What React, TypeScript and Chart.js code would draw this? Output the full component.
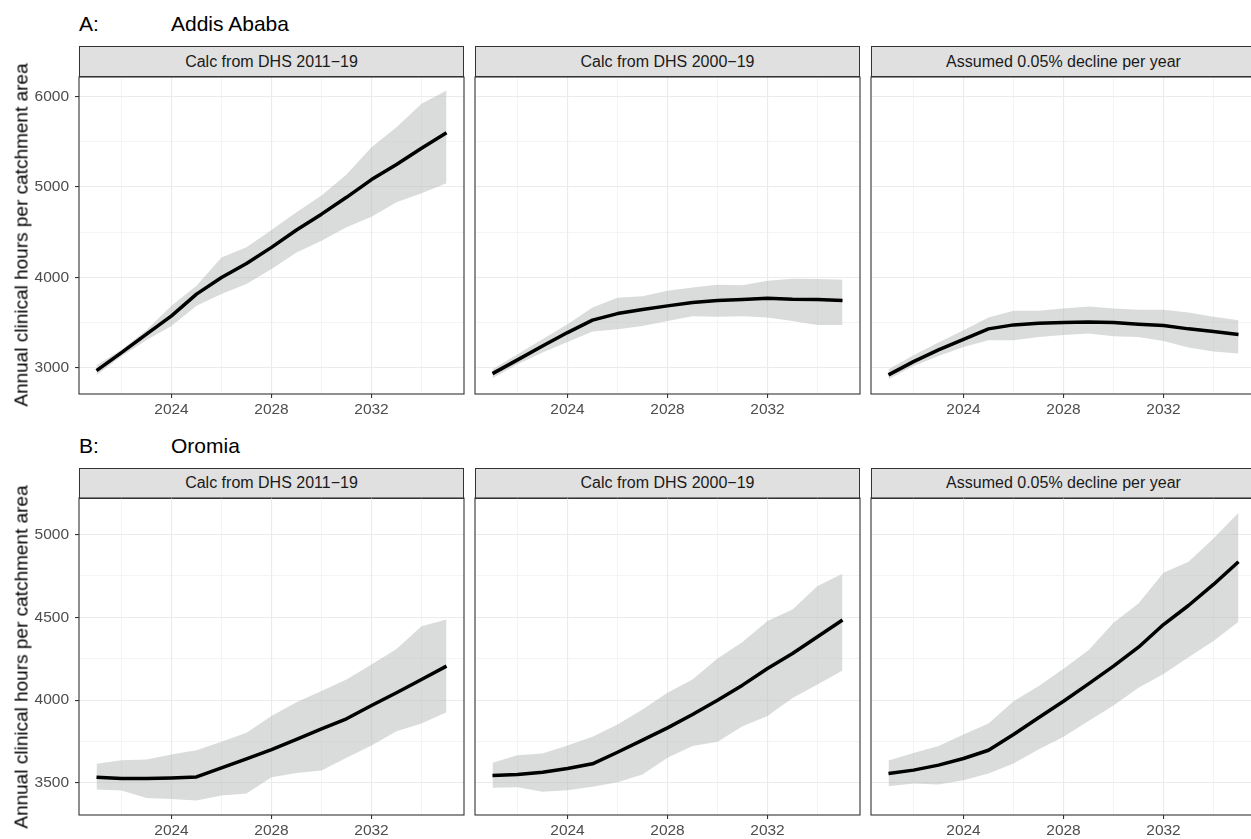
import React, { useEffect, useRef } from "react";
import { Chart, registerables } from "chart.js";

Chart.register(...registerables);

// ---------- data ----------
const years = [2021, 2022, 2023, 2024, 2025, 2026, 2027, 2028, 2029, 2030, 2031, 2032, 2033, 2034, 2035];

const facetLabels = ["Calc from DHS 2011\u221219", "Calc from DHS 2000\u221219", "Assumed 0.05% decline per year"];
const regionTags = ["A:", "B:"];
const regionNames = ["Addis Ababa", "Oromia"];
const yAxisTitle = "Annual clinical hours per catchment area";

const xTickValues = [2022, 2024, 2026, 2028, 2030, 2032, 2034];
const xTickLabels = [2024, 2028, 2032];
const xRange = [2020.3, 2035.7];

const yTickValuesA = [3000, 3500, 4000, 4500, 5000, 5500, 6000];
const yTickLabelsA = [3000, 4000, 5000, 6000];
const yRangeA = [2712, 6216];

const yTickValuesB = [3500, 3750, 4000, 4250, 4500, 4750, 5000];
const yTickLabelsB = [3500, 4000, 4500, 5000];
const yRangeB = [3306, 5220];

// Addis Ababa
const addis1119Mean = [2970, 3170, 3373, 3576, 3816, 4000, 4155, 4333, 4525, 4700, 4886, 5082, 5248, 5429, 5600];
const addis1119Hi = [3030, 3200, 3420, 3687, 3908, 4222, 4333, 4525, 4720, 4905, 5137, 5440, 5661, 5920, 6068];
const addis1119Lo = [2920, 3130, 3310, 3465, 3687, 3816, 3927, 4093, 4277, 4406, 4554, 4672, 4831, 4931, 5041];

const addis0019Mean = [2937, 3089, 3243, 3391, 3528, 3601, 3646, 3686, 3723, 3745, 3756, 3771, 3760, 3756, 3745];
const addis0019Hi = [2985, 3151, 3317, 3483, 3668, 3775, 3793, 3852, 3889, 3919, 3915, 3963, 3985, 3982, 3974];
const addis0019Lo = [2886, 3041, 3170, 3288, 3402, 3428, 3465, 3520, 3572, 3565, 3572, 3557, 3520, 3476, 3476];

const addisDeclMean = [2923, 3070, 3199, 3317, 3432, 3476, 3494, 3502, 3509, 3502, 3483, 3469, 3432, 3402, 3369];
const addisDeclHi = [2985, 3140, 3280, 3417, 3557, 3631, 3631, 3657, 3679, 3657, 3642, 3642, 3613, 3565, 3528];
const addisDeclLo = [2875, 3022, 3133, 3232, 3306, 3306, 3343, 3365, 3380, 3351, 3343, 3299, 3225, 3181, 3159];

// Oromia
const oromia1119Mean = [3534, 3526, 3526, 3530, 3536, 3591, 3645, 3701, 3762, 3826, 3887, 3967, 4044, 4124, 4205];
const oromia1119Hi = [3615, 3637, 3641, 3671, 3697, 3748, 3802, 3903, 3987, 4054, 4124, 4215, 4309, 4446, 4487];
const oromia1119Lo = [3460, 3454, 3409, 3403, 3393, 3423, 3436, 3534, 3560, 3575, 3651, 3726, 3812, 3858, 3927];

const oromia0019Mean = [3544, 3550, 3564, 3587, 3615, 3685, 3758, 3832, 3913, 3999, 4090, 4191, 4281, 4382, 4483];
const oromia0019Hi = [3621, 3667, 3677, 3726, 3778, 3852, 3943, 4044, 4124, 4251, 4350, 4477, 4547, 4688, 4763];
const oromia0019Lo = [3470, 3474, 3446, 3456, 3476, 3504, 3550, 3651, 3722, 3748, 3842, 3903, 4013, 4094, 4179];

const oromiaDeclMean = [3556, 3577, 3607, 3647, 3697, 3792, 3893, 3993, 4098, 4205, 4319, 4456, 4571, 4698, 4835];
const oromiaDeclHi = [3635, 3681, 3722, 3792, 3858, 3993, 4084, 4189, 4301, 4467, 4583, 4769, 4835, 4976, 5131];
const oromiaDeclLo = [3480, 3496, 3490, 3516, 3556, 3617, 3701, 3778, 3873, 3967, 4074, 4158, 4259, 4356, 4473];

// ---------- layout / style ----------
const FONT = "'Liberation Sans', Arial, Helvetica, sans-serif";
Chart.defaults.font.family = FONT;

const COL_LEFT = [79, 475, 871];
const PANEL_W = 385;
const STRIP_TOP = [46, 467.5];
const STRIP_H = 30.5;
const PLOT_H = 317;
const AXIS_H = 30;
const PAD = 20;

const RIBBON = "rgba(181,183,183,0.5)";
const GRID = "#ebebeb";
const TICK_TEXT = "#4d4d4d";

const boxPlugin = {
  id: "panelBox",
  afterDraw(chart: any) {
    const { ctx, chartArea: a } = chart;
    ctx.save();
    ctx.strokeStyle = "#333333";
    ctx.lineWidth = 1.1;
    ctx.strokeRect(a.left, a.top, a.right - a.left, a.bottom - a.top);
    ctx.restore();
  },
};

type PanelProps = {
  row: number;
  col: number;
  mean: number[];
  hi: number[];
  lo: number[];
  yTicks: number[];
  yLabels: number[];
  yRange: number[];
};

function Panel({ row, col, mean, hi, lo, yTicks, yLabels, yRange }: PanelProps) {
  const ref = useRef<HTMLCanvasElement>(null);
  const plotTop = STRIP_TOP[row] + STRIP_H;
  const first = col === 0;
  const canvasLeft = first ? 0 : COL_LEFT[col] - PAD;
  const canvasTop = plotTop - PAD;
  const canvasW = first ? COL_LEFT[0] + PANEL_W + PAD : PANEL_W + 2 * PAD;
  const canvasH = PLOT_H + PAD + AXIS_H;

  useEffect(() => {
    const toXY = (arr: number[]) => arr.map((v, i) => ({ x: years[i], y: v }));
    const chart = new Chart(ref.current as HTMLCanvasElement, {
      type: "line",
      data: {
        datasets: [
          {
            data: toXY(lo),
            borderWidth: 0,
            borderColor: "transparent",
            backgroundColor: RIBBON,
            pointRadius: 0,
            fill: false,
            order: 1,
          },
          {
            data: toXY(hi),
            borderWidth: 0,
            borderColor: "transparent",
            backgroundColor: RIBBON,
            pointRadius: 0,
            fill: "-1",
            order: 2,
          },
          {
            data: toXY(mean),
            borderColor: "#000000",
            borderWidth: 3.5,
            borderJoinStyle: "round",
            pointRadius: 0,
            fill: false,
            order: 0,
          },
        ],
      } as any,
      options: {
        responsive: false,
        animation: false,
        devicePixelRatio: 1,
        layout: { padding: { left: first ? 0 : PAD, top: PAD, right: PAD, bottom: 0 } },
        plugins: {
          legend: { display: false },
          tooltip: { enabled: false },
          filler: { drawTime: "beforeDatasetsDraw" },
        } as any,
        scales: {
          x: {
            type: "linear",
            min: xRange[0],
            max: xRange[1],
            afterBuildTicks: (s: any) => {
              s.ticks = xTickValues.map((v) => ({ value: v }));
            },
            afterFit: (s: any) => {
              s.height = AXIS_H;
            },
            border: { display: false },
            grid: {
              color: GRID,
              lineWidth: (c: any) => (c.tick && xTickLabels.includes(c.tick.value) ? 1.1 : 0.55),
              drawTicks: true,
              tickLength: 4,
              tickWidth: 1.1,
              tickColor: (c: any) => (c.tick && xTickLabels.includes(c.tick.value) ? "#333333" : "rgba(0,0,0,0)"),
            },
            ticks: {
              autoSkip: false,
              maxRotation: 0,
              padding: 2,
              color: TICK_TEXT,
              font: { size: 15.5, family: FONT },
              callback: (v: any) => (xTickLabels.includes(Number(v)) ? String(v) : ""),
            },
          },
          y: {
            type: "linear",
            min: yRange[0],
            max: yRange[1],
            afterBuildTicks: (s: any) => {
              s.ticks = yTicks.map((v) => ({ value: v }));
            },
            afterFit: (s: any) => {
              s.width = first ? COL_LEFT[0] : 0;
            },
            border: { display: false },
            grid: {
              color: GRID,
              lineWidth: (c: any) => (c.tick && yLabels.includes(c.tick.value) ? 1.1 : 0.55),
              drawTicks: first,
              tickLength: 4,
              tickWidth: 1.1,
              tickColor: (c: any) => (c.tick && yLabels.includes(c.tick.value) ? "#333333" : "rgba(0,0,0,0)"),
            },
            ticks: {
              display: first,
              autoSkip: false,
              padding: 6,
              color: TICK_TEXT,
              font: { size: 15.5, family: FONT },
              callback: (v: any) => (yLabels.includes(Number(v)) ? String(v) : ""),
            },
          },
        },
      } as any,
      plugins: [boxPlugin],
    });
    return () => chart.destroy();
  }, []);

  return (
    <>
      <div
        style={{
          position: "absolute",
          left: COL_LEFT[col],
          top: STRIP_TOP[row],
          width: PANEL_W,
          height: STRIP_H + 0.5,
          boxSizing: "border-box",
          background: "#e0e0e0",
          border: "1.1px solid #333333",
          display: "flex",
          alignItems: "center",
          justifyContent: "center",
          fontFamily: FONT,
          fontSize: 16,
          color: "#1a1a1a",
        }}
      >
        {facetLabels[col]}
      </div>
      <canvas
        ref={ref}
        width={canvasW}
        height={canvasH}
        style={{
          position: "absolute",
          left: canvasLeft,
          top: canvasTop,
          width: canvasW,
          height: canvasH,
        }}
      />
      {first && (
        <div
          style={{
            position: "absolute",
            left: 21,
            top: plotTop + PLOT_H / 2,
            transform: "translate(-50%, -50%) rotate(-90deg)",
            whiteSpace: "nowrap",
            fontFamily: FONT,
            fontSize: 19,
            lineHeight: "19px",
            color: "#000",
          }}
        >
          {yAxisTitle}
        </div>
      )}
    </>
  );
}

const rowData = [
  {
    yTicks: yTickValuesA,
    yLabels: yTickLabelsA,
    yRange: yRangeA,
    panels: [
      { mean: addis1119Mean, hi: addis1119Hi, lo: addis1119Lo },
      { mean: addis0019Mean, hi: addis0019Hi, lo: addis0019Lo },
      { mean: addisDeclMean, hi: addisDeclHi, lo: addisDeclLo },
    ],
  },
  {
    yTicks: yTickValuesB,
    yLabels: yTickLabelsB,
    yRange: yRangeB,
    panels: [
      { mean: oromia1119Mean, hi: oromia1119Hi, lo: oromia1119Lo },
      { mean: oromia0019Mean, hi: oromia0019Hi, lo: oromia0019Lo },
      { mean: oromiaDeclMean, hi: oromiaDeclHi, lo: oromiaDeclLo },
    ],
  },
];

const HEADER_TOP = [13, 434.5];

export default function App() {
  return (
    <div
      style={{
        position: "absolute",
        left: 0,
        top: 0,
        width: 1251,
        height: 839,
        overflow: "hidden",
        background: "#ffffff",
        fontFamily: FONT,
      }}
    >
      {rowData.map((r, ri) => (
        <React.Fragment key={ri}>
          <div
            style={{
              position: "absolute",
              left: 79,
              top: HEADER_TOP[ri],
              fontSize: 21,
              lineHeight: "21px",
              color: "#000",
              whiteSpace: "nowrap",
            }}
          >
            {regionTags[ri]}
          </div>
          <div
            style={{
              position: "absolute",
              left: 171,
              top: HEADER_TOP[ri],
              fontSize: 21,
              lineHeight: "21px",
              color: "#000",
              whiteSpace: "nowrap",
            }}
          >
            {regionNames[ri]}
          </div>
          {r.panels.map((p, ci) => (
            <Panel
              key={ci}
              row={ri}
              col={ci}
              mean={p.mean}
              hi={p.hi}
              lo={p.lo}
              yTicks={r.yTicks}
              yLabels={r.yLabels}
              yRange={r.yRange}
            />
          ))}
        </React.Fragment>
      ))}
    </div>
  );
}
